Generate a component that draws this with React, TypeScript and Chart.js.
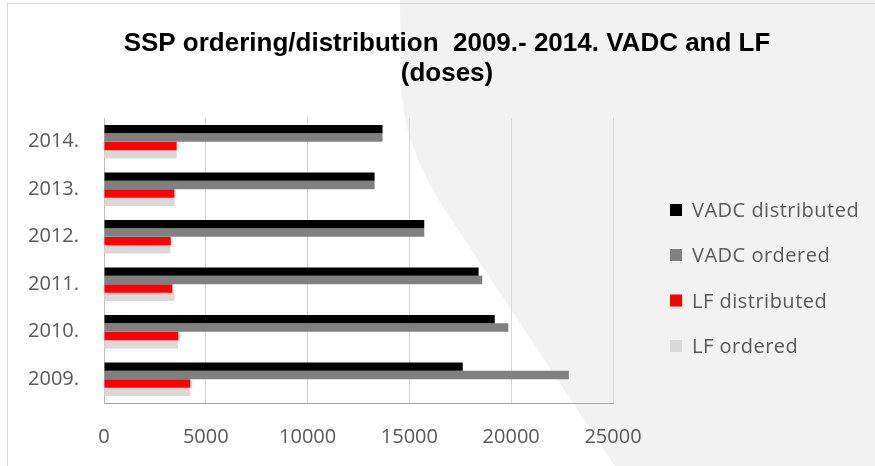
import React, { useEffect, useRef } from 'react';
import { Chart, registerables } from 'chart.js';

Chart.register(...registerables);

const categories = ['2014.', '2013.', '2012.', '2011.', '2010.', '2009.'];
const vadcDistributed = [13680, 13290, 15730, 18400, 19190, 17620];
const vadcOrdered = [13680, 13290, 15730, 18580, 19860, 22830];
const lfDistributed = [3570, 3460, 3280, 3360, 3650, 4240];
const lfOrdered = [3570, 3470, 3260, 3460, 3640, 4240];
const seriesNames = ['VADC distributed', 'VADC ordered', 'LF distributed', 'LF ordered'];
const seriesColors = ['#000000', '#808080', '#ff0000', '#d9d9d9'];
const titleLines = ['SSP ordering/distribution  2009.- 2014. VADC and LF', '(doses)'];
const xMin = 0;
const xMax = 25000;
const xStep = 5000;

const decorPlugin = {
  id: 'decor',
  beforeDraw(chart: any) {
    const { ctx, width, height } = chart;
    ctx.save();
    ctx.fillStyle = '#ffffff';
    ctx.fillRect(0, 0, width, height);
    ctx.beginPath();
    ctx.moveTo(400, -1);
    ctx.lineTo(401, 80);
    ctx.quadraticCurveTo(401, 144, 447, 213);
    ctx.lineTo(615.5, height + 1);
    ctx.lineTo(width + 1, height + 1);
    ctx.lineTo(width + 1, -1);
    ctx.closePath();
    ctx.fillStyle = '#f2f2f2';
    ctx.fill();
    ctx.strokeStyle = '#d9d9d9';
    ctx.lineWidth = 1;
    ctx.strokeRect(7.5, 3.5, width + 40, height + 40);
    ctx.restore();
  },
  afterDraw(chart: any) {
    const { ctx } = chart;
    ctx.save();
    ctx.fillStyle = '#000000';
    ctx.font = 'bold 26px "Liberation Sans", Arial, sans-serif';
    ctx.textAlign = 'center';
    ctx.textBaseline = 'alphabetic';
    ctx.fillText(titleLines[0], 447, 51);
    ctx.fillText(titleLines[1], 447, 81);
    ctx.textAlign = 'left';
    ctx.font = '20px "Open Sans", sans-serif';
    try { (ctx as any).letterSpacing = '0.5px'; } catch (e) { /* ignore */ }
    const baselines = [217, 262, 307.5, 353];
    seriesNames.forEach((name, i) => {
      ctx.fillStyle = seriesColors[i];
      ctx.fillRect(670, baselines[i] - 13, 12, 12);
      ctx.fillStyle = '#595959';
      ctx.fillText(name, 692, baselines[i]);
    });
    ctx.restore();
  },
};

export default function App() {
  const canvasRef = useRef<HTMLCanvasElement | null>(null);

  useEffect(() => {
    if (!canvasRef.current) return;
    const values = [vadcDistributed, vadcOrdered, lfDistributed, lfOrdered];
    const chart = new Chart(canvasRef.current, {
      type: 'bar',
      data: {
        labels: categories,
        datasets: seriesNames.map((name, i) => ({
          label: name,
          data: values[i],
          backgroundColor: seriesColors[i],
          borderWidth: 0,
          categoryPercentage: 0.707,
          barPercentage: 1,
        })),
      },
      options: {
        indexAxis: 'y',
        responsive: false,
        animation: false,
        layout: { padding: { top: 118, right: 262, left: 0, bottom: 0 } },
        plugins: {
          legend: { display: false },
          title: { display: false },
          tooltip: { enabled: false },
        },
        scales: {
          x: {
            type: 'linear',
            min: xMin,
            max: xMax,
            ticks: {
              stepSize: xStep,
              color: '#595959',
              font: { family: '"Open Sans", sans-serif', size: 20 },
              padding: 22,
              callback: (v: any) => String(v),
            },
            grid: { color: '#d9d9d9', lineWidth: 1, drawTicks: false },
            border: { display: true, color: '#a6a6a6', width: 1 },
            afterFit: (s: any) => { s.height = 63; },
          },
          y: {
            ticks: {
              color: '#595959',
              font: { family: '"Open Sans", sans-serif', size: 20 },
              padding: 25,
            },
            grid: { display: false, drawTicks: false },
            border: { display: true, color: '#bfbfbf', width: 1 },
            afterFit: (s: any) => { s.width = 104; },
          },
        },
      },
      plugins: [decorPlugin],
    } as any);
    return () => chart.destroy();
  }, []);

  return (
    <div style={{ position: 'absolute', left: 0, top: 0, width: 875, height: 466 }}>
      <canvas ref={canvasRef} width={875} height={466} style={{ display: 'block' }} />
    </div>
  );
}
